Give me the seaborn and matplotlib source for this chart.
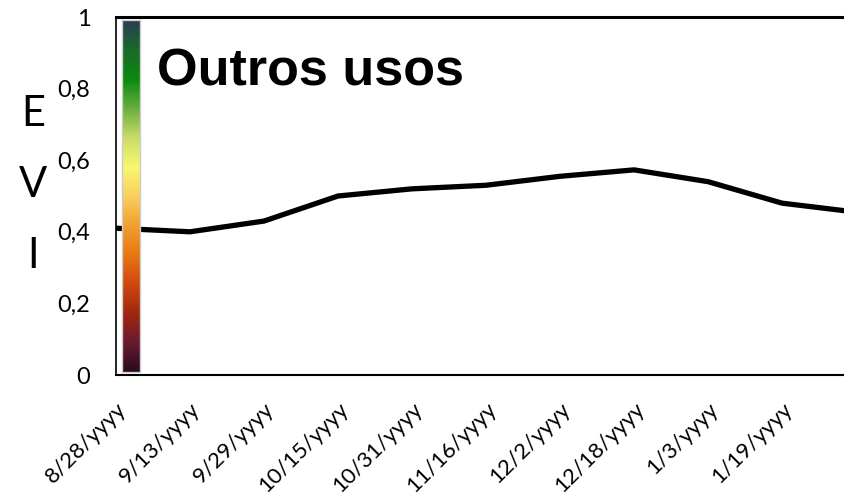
import seaborn as sns
import pandas as pd
import numpy as np
import matplotlib.pyplot as plt
from matplotlib.colors import LinearSegmentedColormap

# EVI series, 16-day composites
dates = ["2000-08-28", "2000-09-13", "2000-09-29", "2000-10-15", "2000-10-31",
         "2000-11-16", "2000-12-02", "2000-12-18", "2001-01-03", "2001-01-19",
         "2001-02-04"]
evi = [0.41, 0.40, 0.43, 0.50, 0.52, 0.53, 0.555, 0.573, 0.54, 0.48, 0.455]
tick_dates = dates[:10]
title = "Outros usos"

# gradient strip colours (bottom -> top)
strip_colors = ["#2a0a1e", "#6a1a30", "#a02810", "#d04810", "#e87810", "#f0a030",
                "#f8d060", "#f8f870", "#c8dc68", "#6aae3c", "#0a8a10", "#1a6a2a",
                "#2a3c55"]

df = pd.DataFrame({"date": pd.to_datetime(dates), "EVI": evi})

sns.set_style("white")
plt.rcParams["font.family"] = ["Lato", "DejaVu Sans"]
plt.rcParams["text.color"] = "black"

fig = plt.figure(figsize=(8.45, 4.95), dpi=100)
ax = fig.add_axes([116 / 845, 1 - 375 / 495, 1 - 116 / 845, (375 - 17) / 495])

sns.lineplot(data=df, x="date", y="EVI", color="black", linewidth=3.8, ax=ax)

start = pd.Timestamp(dates[0])
ax.set_xlim(start, start + pd.Timedelta(days=157.6))
ax.set_ylim(0, 1)

ticks = pd.to_datetime(tick_dates)
ax.set_xticks(ticks)
ax.set_xticklabels([f"{d.month}/{d.day}/yyyy" for d in ticks], rotation=45,
                   ha="right", rotation_mode="anchor", fontsize=16)
ax.set_yticks([0, 0.2, 0.4, 0.6, 0.8, 1])
ax.set_yticklabels(["0", "0,2", "0,4", "0,6", "0,8", "1"], fontsize=17)
ax.tick_params(axis="both", direction="out", width=1.2, color="#888888",
               labelcolor="black")
ax.tick_params(axis="y", length=6.5, pad=12)
ax.tick_params(axis="x", length=4, pad=13)
ax.set_xlabel("")
ax.set_ylabel("")

for side in ["left", "bottom", "top"]:
    ax.spines[side].set_color("black")
ax.spines["left"].set_linewidth(1.2)
ax.spines["bottom"].set_linewidth(1.5)
ax.spines["top"].set_linewidth(2.2)
ax.spines["right"].set_visible(False)

# colour ramp strip
cmap = LinearSegmentedColormap.from_list("evi", strip_colors)
cax = ax.inset_axes([6 / 729, 3 / 358, 18 / 729, 352 / 358])
cax.imshow(np.linspace(0, 1, 256).reshape(-1, 1), cmap=cmap, aspect="auto",
           origin="lower")
cax.set_xticks([])
cax.set_yticks([])
for s in cax.spines.values():
    s.set_color("#cccccc")
    s.set_linewidth(1)
cax.set_zorder(5)

ax.text(41 / 729, 0.81, title, transform=ax.transAxes, fontsize=37.5,
        fontweight="bold", family=["Liberation Sans", "DejaVu Sans"],
        color="black", va="baseline", ha="left")

fig.text(33 / 845, 1 - 185 / 495, "E\nV\nI", fontsize=30, ha="center",
         va="center", linespacing=2.05, color="black")

plt.savefig("out.png", dpi=100)
